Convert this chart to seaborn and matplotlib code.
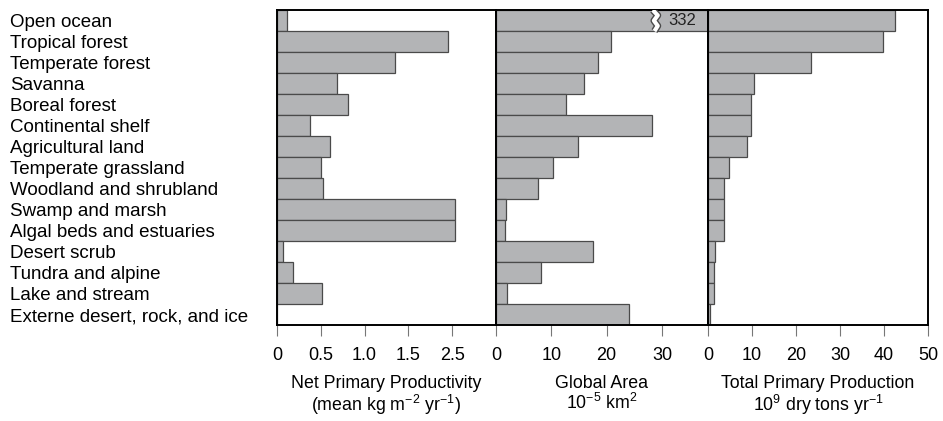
import numpy as np
import pandas as pd
import matplotlib
matplotlib.use("Agg")
from matplotlib import pyplot as plt
import seaborn as sns

# Datos
ecosistemas = [
    "Open ocean", "Tropical forest", "Temperate forest", "Savanna",
    "Boreal forest", "Continental shelf", "Agricultural land",
    "Temperate grassland", "Woodland and shrubland", "Swamp and marsh",
    "Algal beds and estuaries", "Desert scrub", "Tundra and alpine",
    "Lake and stream", "Externe desert, rock, and ice",
]
productividad = [0.12, 1.95, 1.35, 0.68, 0.81, 0.38, 0.61, 0.50, 0.52,
                 2.03, 2.03, 0.07, 0.18, 0.51, 0.0]
area = [332, 20.8, 18.5, 15.9, 12.6, 28.2, 14.8, 10.3, 7.6,
        1.8, 1.7, 17.5, 8.1, 2.0, 24.1]
produccion = [42.5, 39.7, 23.4, 10.4, 9.8, 9.7, 8.8, 4.8, 3.6,
              3.6, 3.7, 1.5, 1.4, 1.3, 0.4]

ticks_prod = [0, 0.5, 1.0, 1.5, 2.0]
labels_prod = ["0", "0.5", "1.0", "1.5", "2.5"]
ticks_area = [0, 10, 20, 30]
ticks_total = [0, 10, 20, 30, 40, 50]

df = pd.DataFrame({"eco": ecosistemas, "npp": productividad,
                   "area": area, "total": produccion})

sns.set_theme(style="white")
plt.rcParams["font.family"] = ["Liberation Sans", "DejaVu Sans"]
plt.rcParams["mathtext.default"] = "regular"
plt.rcParams["text.color"] = "black"
plt.rcParams["xtick.labelcolor"] = "black"
plt.rcParams["ytick.labelcolor"] = "black"
plt.rcParams["axes.labelcolor"] = "black"

fig = plt.figure(figsize=(9.43, 4.21), dpi=100)
bottom, height = 0.228, 0.748
ax1 = fig.add_axes([0.2937, bottom, 0.2322, height])
ax2 = fig.add_axes([0.5259, bottom, 0.2248, height])
ax3 = fig.add_axes([0.7508, bottom, 0.2333, height])

gris = "#b3b4b6"
borde = "#4a4a4a"
for ax, col in [(ax1, "npp"), (ax2, "area"), (ax3, "total")]:
    sns.barplot(data=df, y="eco", x=col, orient="h", width=1.0, color=gris,
                edgecolor=borde, linewidth=0.9, saturation=1, ax=ax)
    ax.set_ylim(len(ecosistemas) - 0.5, -0.5)
    for s in ax.spines.values():
        s.set_color("black")
        s.set_linewidth(1.4)
    ax.tick_params(axis="x", direction="out", length=8, width=0.8,
                   color="#777777", labelsize=13, pad=8, bottom=True)
    ax.set_ylabel("")

etiqueta_kw = dict(fontsize=12.8, labelpad=8, linespacing=1.05)

ax1.set_xlim(0, 2.5)
ax1.set_xticks(ticks_prod)
ax1.set_xticklabels(labels_prod)
ax1.set_yticks(range(len(ecosistemas)))
ax1.set_yticklabels(ecosistemas, ha="left", fontsize=13.5)
ax1.tick_params(axis="y", length=0, pad=192)
ax1.set_xlabel("Net Primary Productivity\n(mean kg m$^{-2}$ yr$^{-1}$)",
               **etiqueta_kw)

lim_area = 38.3
ax2.set_xlim(0, lim_area)
ax2.set_xticks(ticks_area)
ax2.set_yticks([])
ax2.set_xlabel("Global Area\n10$^{-5}$ km$^{2}$", **etiqueta_kw)

# corte de la barra de oceano abierto
xb = lim_area * 0.74
zx = [xb, xb + 0.9, xb + 0.2, xb + 0.9, xb + 0.3]
zy = [-0.5, -0.25, 0.0, 0.25, 0.5]
ax2.plot(zx, zy, color=borde, lw=5, solid_capstyle="butt", zorder=4)
ax2.plot(zx, zy, color="white", lw=3, solid_capstyle="butt", zorder=5)
ax2.text(lim_area * 0.88, 0, str(area[0]), ha="center", va="center",
         fontsize=12, color="#222222", zorder=6)

ax3.set_xlim(0, 50)
ax3.set_xticks(ticks_total)
ax3.set_yticks([])
ax3.set_xlabel("Total Primary Production\n10$^{9}$ dry tons yr$^{-1}$",
               **etiqueta_kw)

fig.savefig("out.png", dpi=100)
plt.close(fig)
